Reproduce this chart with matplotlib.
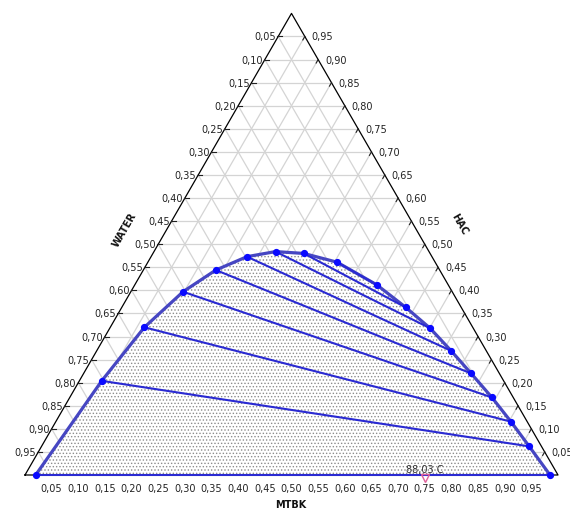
import matplotlib
matplotlib.use("Agg")
import matplotlib.pyplot as plt
import numpy as np

plt.rcParams['font.family'] = ['DejaVu Sans']
plt.rcParams['hatch.linewidth'] = 0.6

# tie line ends, (MTBK, HAC) mass fractions; WATER = 1 - MTBK - HAC
raff_mtbk = [0.020, 0.042, 0.064, 0.098, 0.136, 0.180, 0.228, 0.283, 0.355]
raff_hac = [0.000, 0.204, 0.320, 0.397, 0.444, 0.473, 0.484, 0.480, 0.461]
ext_mtbk = [0.985, 0.915, 0.854, 0.792, 0.727, 0.665, 0.601, 0.533, 0.454]
ext_hac = [0.000, 0.062, 0.1155, 0.168, 0.220, 0.269, 0.318, 0.363, 0.412]

tick_values = [round(0.05 * i, 2) for i in range(1, 20)]
temp_label = "88,03 C"
temp_mtbk = 0.75

S3 = np.sqrt(3) / 2
PX = 533.0  # pixels per unit side


def to_xy(mtbk, hac):
    mtbk = np.asarray(mtbk, dtype=float)
    hac = np.asarray(hac, dtype=float)
    return mtbk + hac / 2, hac * S3


def fmt(v):
    return f"{v:.2f}".replace('.', ',')


fig = plt.figure(figsize=(5.7, 5.1), dpi=100)
ax = fig.add_axes([0, 0, 1, 1])
ax.set_xlim(-25 / PX, 545 / PX)
ax.set_ylim(-34 / PX, 476 / PX)
ax.axis('off')

# grid
for v in tick_values:
    for a, b in [((0, v), (1 - v, v)), ((v, 0), (v, 1 - v)), ((1 - v, 0), (0, 1 - v))]:
        x, y = to_xy([a[0], b[0]], [a[1], b[1]])
        ax.plot(x, y, color='#d4d4d4', lw=0.9, zorder=1)

# triangle outline
tx, ty = to_xy([0, 1, 0, 0], [0, 0, 1, 0])
ax.plot(tx, ty, color='black', lw=0.9, zorder=2)

# two-phase region (binodal)
bin_m = raff_mtbk + ext_mtbk[::-1]
bin_h = raff_hac + ext_hac[::-1]
bx, by = to_xy(bin_m, bin_h)
ax.fill(bx, by, facecolor='white', zorder=1.5)
ax.fill(bx, by, facecolor='none', edgecolor='#8c8c8c', lw=0, hatch='.....', zorder=2)
ax.plot(bx, by, color='#4646c2', lw=2.3, zorder=3, solid_joinstyle='round')

# tie lines
for rm, rh, em, eh in zip(raff_mtbk, raff_hac, ext_mtbk, ext_hac):
    x, y = to_xy([rm, em], [rh, eh])
    ax.plot(x, y, color='#2a2ad2', lw=1.5, zorder=4)
ax.plot(bx, by, 'o', color='#0a0aff', ms=4.2, mec='#0a0aff', lw=0, zorder=5)

# ticks and labels
tk = 4 / PX
for v in tick_values:
    # bottom: MTBK
    x, y = to_xy(v, 0)
    ax.text(x, y - 13 / PX, fmt(v), ha='center', va='center', fontsize=7, color='#222222')
    # left: WATER
    x, y = to_xy(0, 1 - v)
    ax.plot([x - 1 / PX, x + tk], [y, y], color='#222222', lw=0.8, zorder=2)
    ax.text(x - 2 / PX, y, fmt(v), ha='right', va='center', fontsize=7, color='#222222')
    # right: HAC
    x, y = to_xy(1 - v, v)
    ax.plot([x, x - tk * 0.5], [y, y - tk * S3], color='#222222', lw=0.8, zorder=2)
    ax.text(x + 7 / PX, y, fmt(v), ha='left', va='center', fontsize=7, color='#222222')

# axis titles
ax.text(100 / PX, 246 / PX, 'WATER', rotation=60, ha='center', va='center',
        fontsize=7, fontweight='bold', color='#111111')
ax.text(434 / PX, 252 / PX, 'HAC', rotation=-60, ha='center', va='center',
        fontsize=7, fontweight='bold', color='#111111')
ax.text(266 / PX, -29 / PX, 'MTBK', ha='center', va='center',
        fontsize=7, fontweight='bold', color='#111111')

# temperature
x, y = to_xy(temp_mtbk, 0)
ax.plot([x], [y - 3 / PX], 'v', ms=6, mfc='none', mec='#e0609a', mew=1.0, zorder=6)
ax.text(x, y + 5.5 / PX, temp_label, ha='center', va='center', fontsize=7, color='#333333', zorder=6)

fig.savefig('out.png', dpi=100)
